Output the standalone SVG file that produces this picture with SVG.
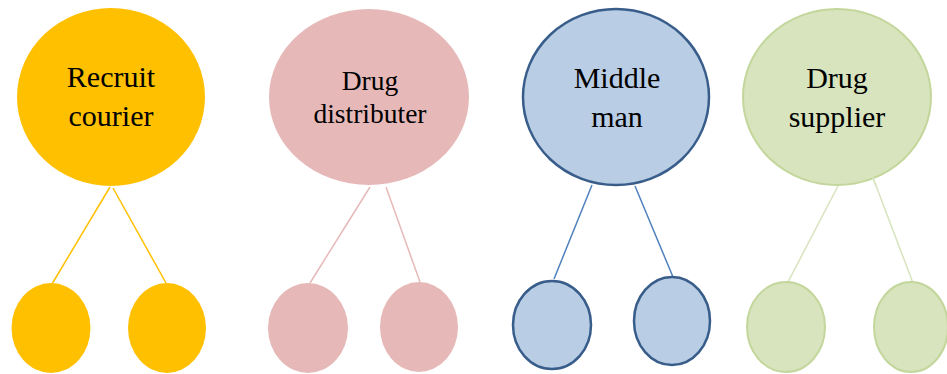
<svg xmlns="http://www.w3.org/2000/svg" width="947" height="374" viewBox="0 0 947 374">
<style>
.t{font-family:"Liberation Serif","Times New Roman",serif;font-size:30px;fill:#000;text-anchor:middle}
.y{fill:#FFC000}
.p{fill:#E6B9B8}
.b{fill:#B9CDE5;stroke:#385D8A;stroke-width:2.5}
.g{fill:#D7E4BD;stroke:#C3D69B;stroke-width:2}
.ly{stroke:#FFC000;stroke-width:1.5}
.lp{stroke:#E6B9B8;stroke-width:1.5}
.lb{stroke:#4F81BD;stroke-width:1.5}
.lg{stroke:#D7E4BD;stroke-width:1.5}
</style>
<rect width="947" height="374" fill="#fff"/>
<g id="connectors" fill="none">
<line class="ly" x1="110" y1="187" x2="52" y2="284"/>
<line class="ly" x1="113" y1="188" x2="166" y2="283"/>
<line class="lp" x1="370" y1="187" x2="310" y2="283"/>
<line class="lp" x1="386" y1="187" x2="420" y2="282"/>
<line class="lb" x1="592" y1="185" x2="554" y2="279"/>
<line class="lb" x1="635" y1="186" x2="673" y2="277"/>
<line class="lg" x1="838" y1="186" x2="788" y2="282"/>
<line class="lg" x1="867" y1="162" x2="913" y2="283"/>
</g>
<g id="recruit-courier">
<ellipse class="y" cx="111" cy="97" rx="94" ry="89"/>
<text class="t" x="111" y="87">Recruit</text>
<text class="t" x="111" y="126">courier</text>
</g>
<g id="drug-distributer">
<ellipse class="p" cx="369" cy="97" rx="100" ry="88"/>
<text class="t" x="370" y="90" style="font-size:27.5px">Drug</text>
<text class="t" x="370" y="123" style="font-size:27.5px">distributer</text>
</g>
<g id="middle-man">
<ellipse class="b" cx="616" cy="97" rx="93" ry="88"/>
<text class="t" x="617" y="88">Middle</text>
<text class="t" x="617" y="127">man</text>
</g>
<g id="drug-supplier">
<ellipse class="g" cx="837" cy="97" rx="94" ry="88"/>
<line class="lg" x1="867" y1="162" x2="876" y2="186"/>
<text class="t" x="837" y="88">Drug</text>
<text class="t" x="837" y="127">supplier</text>
</g>
<g id="rc-child-1"><ellipse class="y" cx="51" cy="328" rx="39.5" ry="45"/></g>
<g id="rc-child-2"><ellipse class="y" cx="167" cy="328" rx="39" ry="45"/></g>
<g id="dd-child-1"><ellipse class="p" cx="308" cy="328" rx="40" ry="45"/></g>
<g id="dd-child-2"><ellipse class="p" cx="419" cy="327" rx="39" ry="45"/></g>
<g id="mm-child-1"><ellipse class="b" cx="552" cy="325" rx="39" ry="44"/></g>
<g id="mm-child-2"><ellipse class="b" cx="672" cy="321" rx="38" ry="44"/></g>
<g id="ds-child-1"><ellipse class="g" cx="786" cy="327" rx="39" ry="45"/></g>
<g id="ds-child-2"><ellipse class="g" cx="911" cy="327" rx="37" ry="45"/></g>
</svg>
